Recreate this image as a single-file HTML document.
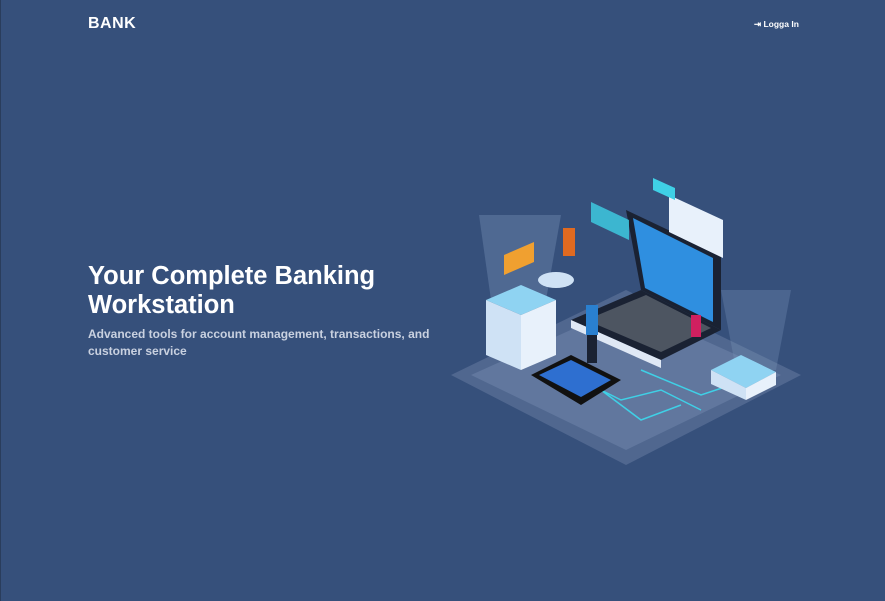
<!DOCTYPE html>
<html><head><meta charset="utf-8"><style>
html,body{margin:0;padding:0}
body{width:885px;height:601px;background:#36507b;position:relative;overflow:hidden;font-family:"Liberation Sans",sans-serif;color:#fff;border-left:1px solid #2a3d5c;box-sizing:border-box}
.logo{position:absolute;left:87px;top:15px;font-size:16px;font-weight:bold;letter-spacing:0.5px}
.login{position:absolute;left:753px;top:19px;font-size:8.5px;font-weight:bold}
h1{position:absolute;left:87px;top:262px;margin:0;font-size:25.5px;line-height:29px;font-weight:bold;width:360px}
p{position:absolute;left:87px;top:326px;margin:0;font-size:12px;line-height:17px;color:#c9d1e0;width:360px;font-weight:bold}
svg{position:absolute;left:0;top:0}
</style></head><body>
<div class="logo">BANK</div>
<div class="login">⇥ Logga In</div>
<h1>Your Complete Banking Workstation</h1>
<p>Advanced tools for account management, transactions, and customer service</p>
<svg width="885" height="601">
<polygon points="625,290 800,375 625,465 450,375" fill="#5b7099" opacity="0.7"/>
<polygon points="625,305 780,375 625,450 470,375" fill="#6c82a8" opacity="0.6"/>
<polygon points="478,215 560,215 545,300 490,300" fill="#7f97bd" opacity="0.35"/>
<polygon points="720,290 790,290 775,370 735,370" fill="#7f97bd" opacity="0.3"/>
<g stroke="#3fd0e6" stroke-width="1.5" fill="none">
<path d="M560,370 L620,400 L660,390 L700,410"/><path d="M600,390 L640,420 L680,405"/><path d="M640,370 L700,395 L730,385"/>
</g>
<polygon points="625,210 720,255 720,330 640,290" fill="#1a2233"/>
<polygon points="632,218 712,258 712,322 644,288" fill="#2f8fe0"/>
<polygon points="640,290 720,330 660,360 570,320" fill="#1a2233"/>
<polygon points="645,295 710,328 660,352 585,320" fill="#4d5561"/>
<polygon points="570,320 660,360 660,368 570,328" fill="#dfe8f5"/>
<polygon points="485,300 520,285 555,300 520,315" fill="#8fd3f2"/>
<polygon points="485,300 520,315 520,370 485,355" fill="#cfe2f5"/>
<polygon points="520,315 555,300 555,355 520,370" fill="#e8f1fb"/>
<polygon points="530,375 570,355 620,380 580,405" fill="#111"/>
<polygon points="538,375 570,360 610,380 580,397" fill="#2e6fd0"/>
<polygon points="710,370 740,355 775,372 745,388" fill="#8fd3f2"/>
<polygon points="710,370 745,388 745,400 710,384" fill="#cfe2f5"/>
<polygon points="745,388 775,372 775,385 745,400" fill="#e8f1fb"/>
<polygon points="668,195 722,220 722,258 668,232" fill="#e8f1fb"/>
<polygon points="590,202 628,220 628,240 590,222" fill="#3fd0e6" opacity="0.8"/>
<polygon points="652,178 674,188 674,200 652,190" fill="#3fd0e6"/>
<polygon points="503,255 533,242 533,262 503,275" fill="#f0a030"/>
<rect x="562" y="228" width="12" height="28" fill="#e06a20"/>
<rect x="585" y="305" width="12" height="30" fill="#2a80d0"/>
<rect x="586" y="335" width="10" height="28" fill="#1a2233"/>
<rect x="690" y="315" width="10" height="22" fill="#d02060"/>
<ellipse cx="555" cy="280" rx="18" ry="8" fill="#cfe2f5"/>
</svg>
</body></html>
